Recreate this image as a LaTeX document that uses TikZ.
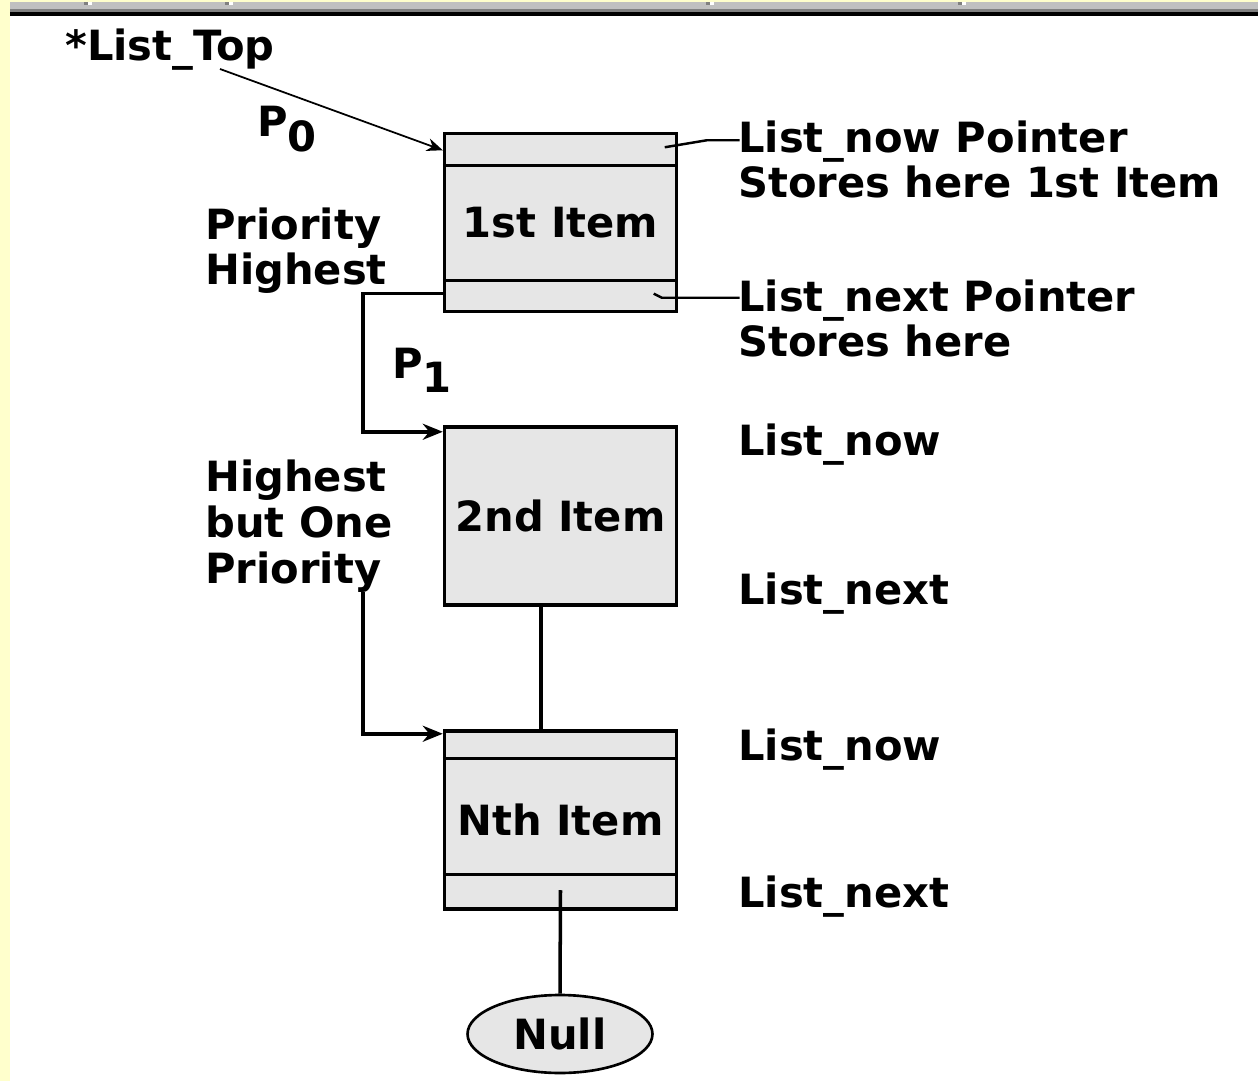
\documentclass[tikz,border=0pt]{standalone}
\usepackage{fontspec}
\setmainfont{DejaVu Sans}
\usetikzlibrary{positioning,calc,shapes.geometric,arrows.meta}

\definecolor{pageyellow}{RGB}{255,255,204}
\definecolor{bargray}{RGB}{192,192,192}
\definecolor{cellgray}{RGB}{230,230,230}

\tikzset{
    txt/.style={font=\fontsize{23.7}{26.1}\selectfont\bfseries, inner sep=0pt, align=left, anchor=base west},
    itembox/.style={draw, line width=2pt, fill=cellgray, minimum width=4.64cm, minimum height=3.56cm,
        inner sep=0pt, font=\fontsize{23.7}{26.1}\selectfont\bfseries},
    ptr/.style={line width=2pt, -{Stealth[length=0.4cm,width=0.32cm]}},
    leader/.style={line width=1.4pt},
}

\begin{document}
\begin{tikzpicture}[x=0.02cm, y=-0.02cm]
        \useasboundingbox (0,0) rectangle (1258,1081);

        % Window frame
        \fill[pageyellow] (0,0) rectangle (1258,1081);
        \fill[white] (10,16) rectangle (1258,1081);
        \fill[bargray] (10,2) rectangle (1258,9);
        \fill[gray] (10,9) rectangle (1258,12);
        \fill[black] (10,12) rectangle (1258,16);
        \foreach \t in {84,225,706,958} {
            \fill[gray] (\t,2) rectangle (\t+4,5);
            \fill[white] (\t+4,2) rectangle (\t+8,5);
        }

        % List items
        \node[itembox] (item1) at (560.5,222.5) {1st Item};
        \node[itembox] (item2) at (560.5,516) {2nd Item};
        \node[itembox] (itemN) at (560.5,820) {Nth Item};
        \node[ellipse, draw, line width=1.5pt, fill=cellgray, minimum width=3.7cm, minimum height=1.56cm,
            inner sep=0pt, font=\fontsize{23.7}{26.1}\selectfont\bfseries] (null) at (560,1034) {Null};

        % Pointer fields: {node}/{top offset}/{bottom offset}
        \foreach \n/\a/\b in {item1/34/33, itemN/29/36} {
            \draw[line width=1.6pt] ($(\n.north west)+(0,\a)$) -- ($(\n.north east)+(0,\a)$);
            \draw[line width=1.6pt] ($(\n.south west)+(0,-\b)$) -- ($(\n.south east)+(0,-\b)$);
        }

        % Left labels (base = last line)
        \node[txt] (listtop) at (65,61) {*List\_Top};
        \node[txt] (p0) at (257,137) {P\raisebox{-0.3cm}{0}};
        \node[txt] (p1) at (392,378) {P\raisebox{-0.3cm}{1}};
        \node[txt] (prio1) at (205,285) {Priority\\Highest};
        \node[txt] (prio2) at (205,583) {Highest\\but One\\Priority};

        % Right labels
        \node[txt] (nowptr) at (738,198) {List\_now Pointer\\Stores here 1st Item};
        \node[txt] (nextptr) at (738,357) {List\_next Pointer\\Stores here};
        \foreach \i/\y/\t in {a/455/now, b/604/next, c/760/now, d/907/next} {
            \node[txt] (lbl\i) at (738,\y) {List\_\t};
        }

        % Connectors
        \coordinate (topout) at (220,69);
        \draw[line width=1pt, -{Stealth[length=0.32cm,width=0.26cm]}] (topout) -- ($(item1.north west)+(0,18.5)$);
        \draw[ptr] ($(item1.south west)+(0,-19.5)$) -- ++(-80,0) |- ($(item2.north west)+(0,6.5)$);
        \coordinate (prioout) at (363,592);
        \draw[ptr] (prioout) |- ($(itemN.north west)+(0,4.5)$);
        \draw[line width=2pt] ($(item2.south)+(-19.5,0)$) -- ($(itemN.north)+(-19.5,0)$);
        \draw[line width=2pt] ($(itemN.south)+(0,-20.5)$) -- (null.north);

        % Leaders to the right labels
        \draw[leader] ($(item1.north east)+(-13.5,15.5)$) -- ++(42,-7) -- ++(33,0);
        \draw[leader] ($(item1.south east)+(-24.5,-19.5)$) -- ++(8,4) -- ++(78,0);
\end{tikzpicture}
\end{document}
